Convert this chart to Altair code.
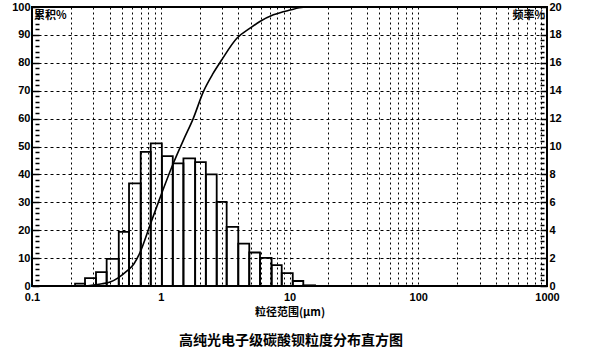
import altair as alt
import pandas as pd

# ---- data ----
bin_lo = [0.216, 0.258, 0.314, 0.380, 0.472, 0.567, 0.699, 0.836, 1.02, 1.24, 1.50,
          1.85, 2.24, 2.72, 3.25, 4.00, 4.87, 5.90, 7.26, 8.70, 10.6, 12.8]
bin_hi = [0.258, 0.314, 0.380, 0.472, 0.567, 0.699, 0.836, 1.02, 1.24, 1.50, 1.85,
          2.24, 2.72, 3.25, 4.00, 4.87, 5.90, 7.26, 8.70, 10.6, 12.8, 15.8]
freq = [0.17, 0.57, 1.0, 1.94, 3.88, 7.35, 9.62, 10.22, 9.31, 8.79, 9.15,
        8.88, 8.0, 6.03, 4.24, 3.04, 2.40, 2.01, 1.49, 0.93, 0.36, 0.05]

cum_size = [0.26, 0.30, 0.35, 0.404, 0.47, 0.544, 0.62, 0.690, 0.825, 0.985, 1.25, 1.50,
            1.79, 2.14, 2.55, 2.97, 3.90, 4.94, 5.89, 7.5, 10.1, 12.8, 16.0, 1000]
cum_pct = [0, 0.3, 0.8, 1.4, 3.0, 5.3, 8.0, 12.0, 21.8, 31.5, 43.9, 52.3,
           60.1, 69.6, 76.2, 81.0, 88.8, 92.4, 94.8, 97.2, 98.9, 99.9, 100, 100]

left_labels = list(range(0, 101, 10))
right_labels = list(range(0, 21, 2))
x_grid = [m * 10.0 ** e for e in range(-1, 3) for m in range(1, 10)] + [1000.0]
tick_vals = list(range(0, 101, 2))

TITLE = "高纯光电子级碳酸钡粒度分布直方图"
XTITLE = "粒径范围(μm)"
CJK = "Noto Sans CJK SC"
NUM = "Liberation Sans"

W, H = 515, 279

bars_df = pd.DataFrame({"lo": bin_lo, "hi": bin_hi, "f": freq, "z": [0] * len(freq)})
cum_df = pd.DataFrame({"d": cum_size, "c": cum_pct})
tick_df = pd.DataFrame({"t": tick_vals})

xscale = alt.Scale(type="log", domain=[0.1, 1000], nice=False)
lscale = alt.Scale(domain=[0, 100], nice=False, zero=True)
rscale = alt.Scale(domain=[0, 20], nice=False, zero=True)

x_axis = alt.Axis(
    values=x_grid, grid=True, gridColor="#000", gridDash=[2, 3], gridWidth=1,
    ticks=False, domain=False, labelFlush=False, labelOverlap=False,
    labelExpr="abs(log(datum.value)/log(10) - round(log(datum.value)/log(10))) < 1e-6 ? (datum.value < 1 ? '0.1' : format(datum.value, 'd')) : ''",
    labelFont=NUM, labelFontSize=11, labelFontWeight="bold", labelColor="#000", labelPadding=5,
    title=XTITLE, titleFont=CJK, titleFontSize=11, titleFontWeight="bold", titleColor="#000",
    titlePadding=4,
)

curve = alt.Chart(cum_df).mark_line(color="#000", strokeWidth=1.6, interpolate="monotone").encode(
    x=alt.X("d:Q", scale=xscale, axis=x_axis),
    y=alt.Y("c:Q", scale=lscale, axis=alt.Axis(
        values=left_labels, grid=True, gridColor="#000", gridDash=[3, 3], gridWidth=1,
        ticks=False, domain=False, labelFont=NUM, labelFontSize=11, labelFontWeight="bold",
        labelColor="#000", labelPadding=2, title=None)),
)

bars = alt.Chart(bars_df).mark_rect(fill="transparent", stroke="#000", strokeWidth=1.8).encode(
    x=alt.X("lo:Q", scale=xscale),
    x2="hi:Q",
    y=alt.Y("f:Q", scale=rscale, axis=alt.Axis(
        orient="right", values=right_labels, grid=False, ticks=False, domain=False,
        labelFont=NUM, labelFontSize=11, labelFontWeight="bold", labelColor="#000",
        labelPadding=2, title=None)),
    y2="z:Q",
)

size_expr = {"condition": {"test": "datum.value % 10 === 0", "value": 7}, "value": 4}


def tick_axis_layer(orient):
    # invisible points; the layer exists only to carry an inward-offset tick axis
    return alt.Chart(tick_df).mark_point(opacity=0).encode(
        y=alt.Y("t:Q", scale=lscale, axis=alt.Axis(
            orient=orient, values=tick_vals, labels=False, grid=False, domain=False,
            ticks=True, tickSize=size_expr, tickWidth=1.5, tickColor="#000",
            offset=-7, title=None)),
        x=alt.value(10),
    )


txt_df = pd.DataFrame({"t": ["累积%", "频率%", TITLE]})
lbl_left = alt.Chart(txt_df.iloc[[0]]).mark_text(
    font=CJK, fontSize=11, fontWeight="bold", color="#000", align="left", baseline="middle"
).encode(text="t:N", x=alt.value(2), y=alt.value(9))
lbl_right = alt.Chart(txt_df.iloc[[1]]).mark_text(
    font=CJK, fontSize=11, fontWeight="bold", color="#000", align="right", baseline="middle"
).encode(text="t:N", x=alt.value(W - 2), y=alt.value(9))
main_title = alt.Chart(txt_df.iloc[[2]]).mark_text(
    font=CJK, fontSize=14, fontWeight="bold", color="#000", align="center", baseline="middle"
).encode(text="t:N", x=alt.value(259), y=alt.value(334))

chart = alt.layer(
    curve, bars,
    tick_axis_layer("left"),
    tick_axis_layer("right"),
    lbl_left, lbl_right, main_title,
).resolve_scale(
    y="independent"
).properties(
    width=W, height=H,
    padding={"left": 32, "top": 7, "right": 53, "bottom": 64},
    autosize=alt.AutoSizeParams(type="none"),
    background="white",
).configure_view(stroke="#000", strokeWidth=2)

chart.save("out.html", embed_options={"renderer": "svg", "actions": False})
